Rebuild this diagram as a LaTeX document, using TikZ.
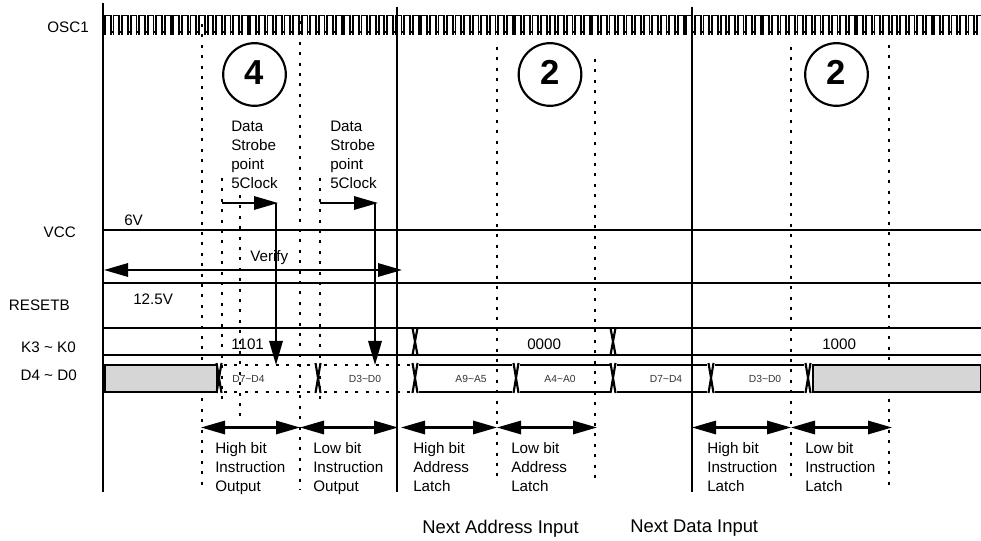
\documentclass[tikz,border=0pt]{standalone}
\usepackage{fontspec}
\setmainfont{Liberation Sans}
\usetikzlibrary{arrows.meta}
\tikzset{
	bigarrow/.style={{Triangle[length=18pt,width=10pt]}-{Triangle[length=18pt,width=10pt]}},
	headarrow/.style={-{Triangle[length=18pt,width=10pt]}},
	wave/.style={line width=1.6pt},
	guide/.style={line width=2.2pt,dash pattern=on 2.2pt off 5.6pt},
	thinguide/.style={line width=1.2pt,dash pattern=on 2.2pt off 5.6pt},
	label/.style={inner sep=0pt,align=left,anchor=north west,font=\fontsize{11.4}{14.25}\selectfont},
	bigtext/.style={inner sep=0pt,anchor=west,font=\fontsize{13.8}{16}\selectfont},
	tiny/.style={inner sep=0pt,font=\fontsize{7.7}{9}\selectfont,text=black!80},
	num/.style={circle,draw,line width=1.6pt,minimum size=47pt,inner sep=0pt,text depth=3pt,font=\fontsize{26}{26}\selectfont\bfseries}
}
\begin{document}
\begin{tikzpicture}[x=.75pt,y=-.75pt,line join=miter,>=stealth]
	\useasboundingbox (0,0) rectangle (981,541);
	% clock
	\foreach \k in {0,...,102}{
		\draw[line width=1.4pt] ({105+\k*8.55},35)--({105+\k*8.55},15.5)--({110.8+\k*8.55},15.5)--({110.8+\k*8.55},35);
		\draw[line width=1.4pt] ({110.8+\k*8.55},32)--({113.55+\k*8.55},32);
	}
	% dotted guides
	\foreach \x/\s/\e in {202/24/490,300/21/490,497/47/483,595/59/483,889/45/490}{
		\draw[guide] (\x,\s)--(\x,\e);
	}
	\draw[guide] (222,178)--(222,405) (320,178)--(320,405);
	\draw[thinguide] (240,195)--(240,423) (791,47)--(791,483);
	% cycle borders
	\draw[wave,line width=2pt] (103,3)--(103,492) (397,7)--(397,492) (692,7)--(692,492);
	% supply levels
	\foreach \y in {230,283,328,355}{
		\draw[wave] (103,\y)--(981,\y);
	}
	\draw[wave,bigarrow] (104,270)--(402,270);
	% strobe
	\draw[wave,headarrow] (222,203)--(278,203);
	\draw[wave,headarrow] (320,203)--(378,203);
	\draw[wave,headarrow] (276,203)--(276,365);
	\draw[wave,headarrow] (375,203)--(375,365);
	% data bus
	\draw[wave,fill=black!16] (105,365) rectangle (217,392);
	\draw[wave,fill=black!16] (813,365) rectangle (981,392);
	\foreach \a/\b in {224/314,324/411}{
		\draw[guide] (\a,365)--(\b,365) (\a,392)--(\b,392);
	}
	\foreach \a/\b in {419/512,520/610,617/707,715/804}{
		\draw[wave] (\a,365)--(\b,365) (\a,392)--(\b,392);
	}
	\foreach \x in {219,318,415,516,613,711,808}{
		\draw[wave] ({\x-2.5},363)--({\x+2.5},393) ({\x+2.5},363)--({\x-2.5},393);
	}
	\foreach \x in {415,613}{
		\draw[wave] ({\x-2.5},328)--({\x+2.5},355) ({\x+2.5},328)--({\x-2.5},355);
	}
	% latch spans
	\foreach \a/\b in {201/300,300/398,401/497,497/597,692/791,791/892}{
		\draw[wave,bigarrow] (\a,427.5)--(\b,427.5);
	}
	% labels
	\node[label,anchor=east] (osc) at (89,27) {OSC1};
	\node[label,anchor=east] (vcc) at (76,232.5) {VCC};
	\node[label,anchor=east] (rst) at (70,305) {RESETB};
	\node[label,anchor=east] (key) at (76,347.5) {K3 \textasciitilde{} K0};
	\node[label,anchor=east] (dat) at (77,375.5) {D4 \textasciitilde{} D0};
	\node[label,anchor=west] (six) at (124,220) {6V};
	\node[label,anchor=west] (hiv) at (133,299) {12.5V};
	\node[label,anchor=west] (ver) at (250,258) {Verify};
	\node[label,anchor=west] (kdd) at (231,344) {1101};
	\node[label,anchor=west] (kaa) at (527,344) {0000};
	\node[label,anchor=west] (kbb) at (822,344) {1000};
	\node[num] (cfour) at (254.5,74.5) {4};
	\node[num] (ctwoa) at (550,74.5) {2};
	\node[num] (ctwob) at (836.5,74.5) {2};
	\node[label] (stra) at (231,120.5) {Data\\Strobe\\point\\5Clock};
	\node[label] (strb) at (330,120.5) {Data\\Strobe\\point\\5Clock};
	\node[tiny] (da) at (248.5,379) {D7\textasciitilde D4};
	\node[tiny] (db) at (365,379) {D3\textasciitilde D0};
	\node[tiny] (dc) at (471,379) {A9\textasciitilde A5};
	\node[tiny] (dd) at (560,379) {A4\textasciitilde A0};
	\node[tiny] (de) at (666,379) {D7\textasciitilde D4};
	\node[tiny] (df) at (765,379) {D3\textasciitilde D0};
	\node[label] (ha) at (215,442.5) {High bit\\Instruction\\Output};
	\node[label] (hb) at (313,442.5) {Low bit\\Instruction\\Output};
	\node[label] (hc) at (413,442.5) {High bit\\Address\\Latch};
	\node[label] (hd) at (511,442.5) {Low bit\\Address\\Latch};
	\node[label] (he) at (707,442.5) {High bit\\Instruction\\Latch};
	\node[label] (hf) at (805,442.5) {Low bit\\Instruction\\Latch};
	\node[bigtext] (na) at (422,528.5) {Next Address Input};
	\node[bigtext] (nd) at (630,528.5) {Next Data Input};
\end{tikzpicture}
\end{document}
